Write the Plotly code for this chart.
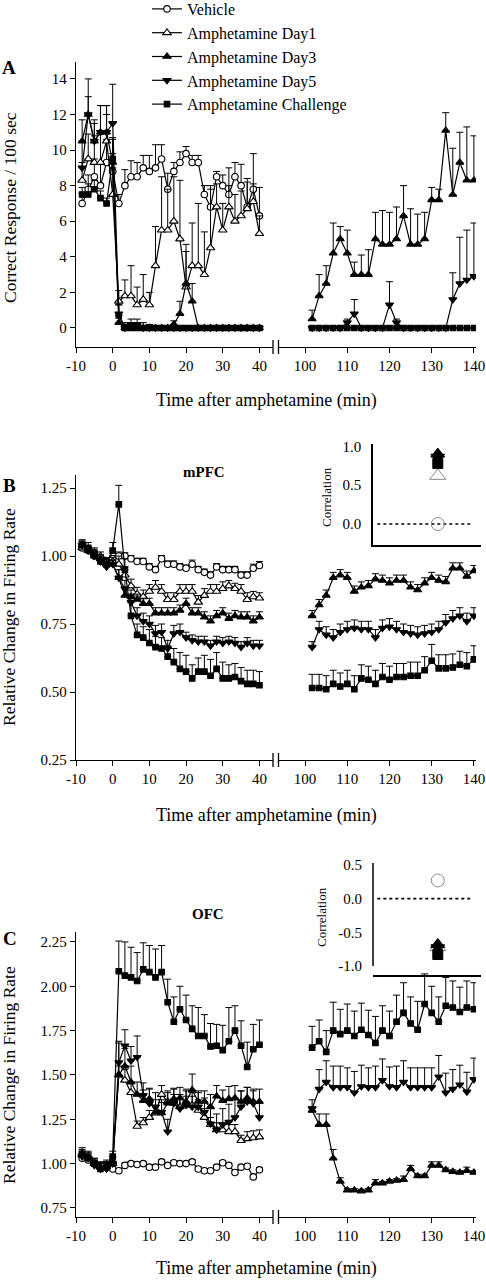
import plotly.graph_objects as go

W, H = 486, 1280
FONT = "Liberation Serif"

# ---------------- data ----------------
T_LEFT = [-8.33, -6.67, -5.0, -3.33, -1.67, 0.0, 1.67, 3.33, 5.0, 6.67, 8.33, 10.0, 11.67, 13.33, 15.0,
          16.67, 18.33, 20.0, 21.67, 23.33, 25.0, 26.67, 28.33, 30.0, 31.67, 33.33, 35.0, 36.67, 38.33, 40.0]
T_RIGHT = [101.67, 103.33, 105.0, 106.67, 108.33, 110.0, 111.67, 113.33, 115.0, 116.67, 118.33, 120.0,
           121.67, 123.33, 125.0, 126.67, 128.33, 130.0, 131.67, 133.33, 135.0, 136.67, 138.33, 140.0]

SERIES = ["Vehicle", "Amphetamine Day1", "Amphetamine Day3", "Amphetamine Day5", "Amphetamine Challenge"]

X_TICKS_LEFT = [-10, 0, 10, 20, 30, 40]
X_TICKS_RIGHT = [100, 110, 120, 130, 140]
A_YTICKS = [0, 2, 4, 6, 8, 10, 12, 14]
B_YTICKS = [0.25, 0.50, 0.75, 1.00, 1.25]
C_YTICKS = [0.75, 1.00, 1.25, 1.50, 1.75, 2.00, 2.25]

# Panel A (correct responses / 100 s)
A_VEH = [7.0, 7.8, 8.5, 8.0, 9.3, 8.8, 7.0, 8.0, 8.5, 8.5, 9.0, 8.8, 9.0, 9.5, 7.8, 8.8, 9.3, 9.8, 9.3, 9.3,
         7.5, 6.8, 8.5, 8.0, 7.5, 8.5, 8.0, 6.8, 7.8, 6.3]
A_VEH_ERR = [0.6, 0.8, 1.0, 1.3, 1.3, 1.0, 0.5, 0.9, 0.9, 0.8, 0.7, 0.9, 1.3, 0.8, 0.9, 0.5, 0.6, 0.4, 0.4, 0.4,
             0.5, 1.2, 0.3, 0.6, 1.5, 0.8, 1.2, 1.6, 2.0, 1.6]
A_D1 = [8.3, 9.5, 9.3, 9.3, 10.5, 7.5, 1.5, 1.8, 1.8, 1.3, 1.6, 1.3, 3.5, 5.5, 5.5, 6.0, 5.0, 2.3, 3.5, 3.5,
        3.0, 4.5, 6.8, 5.5, 6.8, 6.0, 6.3, 6.7, 7.1, 5.3]
A_D1_ERR = [1.0, 1.4, 1.5, 1.6, 1.5, 1.5, 0.6, 0.9, 1.7, 1.0, 1.4, 0.7, 2.2, 3.0, 2.3, 2.5, 3.3, 2.4, 2.4, 3.5,
            2.4, 3.3, 1.3, 1.5, 1.2, 1.5, 1.4, 1.5, 1.0, 1.0]
A_D3 = [10.5, 12.0, 10.5, 11.0, 11.0, 9.3, 0.3, 0, 0, 0, 0, 0, 0, 0, 0, 0.2, 0.8, 2.5, 1.5, 0,
        0, 0, 0, 0, 0, 0, 0, 0, 0, 0]
A_D3_ERR = [1.2, 2.0, 1.2, 1.5, 1.5, 1.3, 0.4, 0.2, 0.2, 0.2, 0.3, 0.2, 0, 0, 0, 0.2, 0.7, 1.8, 1.0, 0,
            0, 0, 0, 0, 0, 0, 0, 0, 0, 0]
A_D5 = [9.0, 12.0, 10.5, 11.0, 11.0, 11.5, 0.8, 0, 0.2, 0.2, 0, 0, 0, 0, 0, 0, 0, 0, 0, 0,
        0, 0, 0, 0, 0, 0, 0, 0, 0, 0]
A_D5_ERR = [1.5, 1.0, 1.0, 1.5, 1.5, 2.2, 0.5, 0.3, 0.3, 0.3, 0, 0, 0, 0, 0, 0, 0, 0, 0, 0,
            0, 0, 0, 0, 0, 0, 0, 0, 0, 0]
A_CH = [7.5, 7.5, 7.8, 7.3, 7.0, 9.5, 0.7, 0, 0, 0, 0, 0, 0, 0, 0, 0, 0, 0, 0, 0,
        0, 0, 0, 0, 0, 0, 0, 0, 0, 0]
A_CH_ERR = [0.4, 0.6, 0.5, 0.4, 0.3, 1.2, 0.6, 0, 0, 0, 0, 0, 0, 0, 0, 0, 0, 0, 0, 0,
            0, 0, 0, 0, 0, 0, 0, 0, 0, 0]

AR_D3 = [0.5, 1.8, 2.5, 4.2, 5.0, 4.2, 3.0, 3.0, 3.0, 5.0, 4.7, 4.7, 5.0, 6.3, 4.7, 4.7, 5.0, 7.2, 7.2, 11.1,
         7.5, 9.3, 8.3, 8.3]
AR_D3_ERR = [0.5, 1.2, 1.0, 1.7, 0.7, 1.3, 0.7, 1.1, 1.4, 1.5, 1.9, 1.8, 1.8, 1.7, 2.0, 1.7, 1.5, 0.7, 0.6, 1.0,
             2.6, 1.7, 3.0, 2.5]
AR_D5 = [0, 0, 0, 0, 0, 0.3, 0.8, 0, 0, 0, 0, 1.3, 0.3, 0, 0, 0, 0, 0, 0, 0, 1.6, 2.5, 2.7, 2.9]
AR_D5_ERR = [0, 0, 0, 0, 0, 0.2, 0.8, 0, 0, 0, 0, 1.3, 0.2, 0, 0, 0, 0, 0, 0, 0, 1.5, 2.6, 2.8, 3.0]
AR_CH = [0, 0, 0, 0, 0, 0, 0, 0, 0, 0, 0, 0, 0, 0, 0, 0, 0, 0, 0, 0, 0, 0, 0, 0]
AR_CH_ERR = [0, 0, 0, 0, 0, 0, 0, 0, 0, 0, 0, 0, 0, 0, 0, 0, 0, 0, 0, 0, 0, 0, 0, 0]

# Panel B (mPFC relative firing rate)
B_VEH = [1.03, 1.02, 1.00, 0.99, 0.98, 0.99, 1.00, 1.00, 0.99, 0.98, 0.98, 0.96, 0.95, 0.99, 0.97, 0.97, 0.96,
         0.955, 0.97, 0.95, 0.94, 0.93, 0.96, 0.95, 0.95, 0.95, 0.93, 0.93, 0.955, 0.965]
B_VEH_ERR = [0.012, 0.012, 0.012, 0.012, 0.012, 0.012, 0.015, 0.012, 0.012, 0.012, 0.012, 0.012, 0.012, 0.012,
             0.012, 0.012, 0.012, 0.012, 0.015, 0.012, 0.012, 0.012, 0.012, 0.012, 0.012, 0.012, 0.012, 0.012,
             0.015, 0.015]
B_D1 = [1.03, 1.02, 1.01, 1.00, 0.98, 0.98, 0.97, 0.93, 0.89, 0.86, 0.85, 0.87, 0.885, 0.87, 0.84, 0.84, 0.87,
        0.87, 0.87, 0.83, 0.855, 0.87, 0.87, 0.88, 0.89, 0.88, 0.87, 0.84, 0.85, 0.845]
B_D1_ERR = [0.015, 0.015, 0.015, 0.015, 0.015, 0.015, 0.03, 0.03, 0.025, 0.025, 0.025, 0.025, 0.025, 0.025,
            0.025, 0.025, 0.025, 0.025, 0.025, 0.025, 0.025, 0.025, 0.025, 0.025, 0.02, 0.02, 0.025, 0.025,
            0.02, 0.02]
B_D3 = [1.04, 1.02, 1.00, 0.99, 0.97, 0.97, 0.92, 0.855, 0.85, 0.84, 0.825, 0.825, 0.79, 0.79, 0.79, 0.79, 0.80,
        0.825, 0.79, 0.79, 0.775, 0.76, 0.78, 0.79, 0.77, 0.78, 0.775, 0.775, 0.76, 0.775]
B_D3_ERR = [0.015, 0.015, 0.015, 0.015, 0.015, 0.015, 0.03, 0.03, 0.025, 0.02, 0.02, 0.02, 0.02, 0.02, 0.02,
            0.02, 0.02, 0.02, 0.02, 0.02, 0.02, 0.02, 0.02, 0.02, 0.02, 0.02, 0.02, 0.02, 0.02, 0.02]
B_D5 = [1.04, 1.02, 1.00, 0.98, 0.96, 0.97, 0.92, 0.88, 0.83, 0.78, 0.76, 0.75, 0.715, 0.72, 0.66, 0.715, 0.72,
        0.70, 0.69, 0.685, 0.685, 0.67, 0.685, 0.68, 0.685, 0.68, 0.665, 0.68, 0.67, 0.67]
B_D5_ERR = [0.015, 0.015, 0.015, 0.015, 0.015, 0.015, 0.03, 0.03, 0.03, 0.03, 0.03, 0.03, 0.03, 0.03, 0.03, 0.03,
            0.03, 0.02, 0.02, 0.02, 0.02, 0.02, 0.02, 0.02, 0.02, 0.02, 0.02, 0.02, 0.02, 0.02]
B_CH = [1.04, 1.03, 1.01, 0.98, 0.97, 1.02, 1.19, 0.95, 0.78, 0.71, 0.70, 0.68, 0.665, 0.66, 0.63, 0.61, 0.585,
        0.575, 0.55, 0.575, 0.575, 0.56, 0.585, 0.55, 0.55, 0.555, 0.54, 0.53, 0.53, 0.525]
B_CH_ERR = [0.02, 0.02, 0.02, 0.02, 0.02, 0.03, 0.07, 0.04, 0.05, 0.04, 0.04, 0.05, 0.04, 0.04, 0.04, 0.05, 0.06,
            0.06, 0.05, 0.05, 0.06, 0.06, 0.06, 0.06, 0.05, 0.05, 0.05, 0.05, 0.05, 0.05]

BR_D3 = [0.78, 0.82, 0.855, 0.92, 0.93, 0.92, 0.87, 0.885, 0.89, 0.915, 0.91, 0.90, 0.91, 0.91, 0.885, 0.875,
         0.90, 0.92, 0.91, 0.905, 0.955, 0.955, 0.925, 0.945]
BR_D3_ERR = [0.02, 0.02, 0.02, 0.02, 0.02, 0.02, 0.02, 0.02, 0.02, 0.02, 0.02, 0.02, 0.02, 0.02, 0.02, 0.02,
             0.02, 0.02, 0.02, 0.02, 0.02, 0.02, 0.02, 0.02]
BR_D5 = [0.665, 0.73, 0.71, 0.70, 0.72, 0.73, 0.735, 0.73, 0.73, 0.70, 0.735, 0.74, 0.73, 0.72, 0.715, 0.71,
         0.715, 0.72, 0.73, 0.755, 0.77, 0.78, 0.76, 0.78]
BR_D5_ERR = [0.02, 0.03, 0.03, 0.03, 0.03, 0.03, 0.03, 0.03, 0.03, 0.03, 0.03, 0.03, 0.03, 0.03, 0.03, 0.03,
             0.03, 0.03, 0.03, 0.03, 0.03, 0.03, 0.03, 0.03]
BR_CH = [0.515, 0.515, 0.51, 0.53, 0.52, 0.53, 0.51, 0.55, 0.545, 0.53, 0.555, 0.545, 0.555, 0.555, 0.56, 0.56,
         0.58, 0.615, 0.587, 0.587, 0.59, 0.60, 0.595, 0.62]
BR_CH_ERR = [0.05, 0.05, 0.05, 0.05, 0.05, 0.05, 0.05, 0.05, 0.05, 0.05, 0.05, 0.05, 0.05, 0.05, 0.05, 0.05,
             0.05, 0.06, 0.05, 0.05, 0.05, 0.05, 0.05, 0.05]

# Panel C (OFC relative firing rate)
C_VEH = [1.03, 1.02, 1.00, 0.99, 0.98, 0.97, 0.96, 0.99, 1.00, 0.995, 1.00, 0.98, 0.98, 1.01, 0.99, 1.005,
         1.00, 1.00, 1.01, 0.97, 0.96, 0.96, 0.98, 1.005, 0.99, 0.95, 0.98, 0.985, 0.925, 0.965]
C_VEH_ERR = [0.012, 0.012, 0.012, 0.012, 0.012, 0.012, 0.012, 0.012, 0.012, 0.012, 0.012, 0.012, 0.012, 0.012,
             0.012, 0.012, 0.012, 0.012, 0.012, 0.012, 0.012, 0.012, 0.012, 0.012, 0.012, 0.012, 0.012, 0.012,
             0.012, 0.012]
C_D1 = [1.05, 1.03, 1.00, 0.98, 0.99, 1.00, 1.50, 1.47, 1.40, 1.21, 1.23, 1.26, 1.285, 1.39, 1.35, 1.34, 1.32,
        1.33, 1.33, 1.30, 1.26, 1.22, 1.19, 1.19, 1.18, 1.18, 1.13, 1.14, 1.145, 1.15]
C_D1_ERR = [0.02, 0.02, 0.02, 0.02, 0.02, 0.02, 0.05, 0.06, 0.05, 0.03, 0.03, 0.04, 0.04, 0.05, 0.06, 0.05,
            0.05, 0.05, 0.05, 0.06, 0.05, 0.04, 0.04, 0.04, 0.04, 0.04, 0.03, 0.04, 0.04, 0.04]
C_D3 = [1.06, 1.04, 1.00, 0.98, 0.98, 1.01, 1.50, 1.55, 1.46, 1.39, 1.355, 1.365, 1.29, 1.285, 1.34, 1.365,
        1.37, 1.35, 1.415, 1.35, 1.35, 1.32, 1.38, 1.355, 1.365, 1.37, 1.35, 1.37, 1.35, 1.35]
C_D3_ERR = [0.03, 0.03, 0.03, 0.03, 0.03, 0.03, 0.18, 0.10, 0.09, 0.07, 0.06, 0.06, 0.07, 0.06, 0.06, 0.06,
            0.06, 0.07, 0.09, 0.06, 0.06, 0.07, 0.06, 0.06, 0.07, 0.07, 0.06, 0.06, 0.06, 0.07]
C_D5 = [1.04, 1.03, 0.99, 0.97, 0.97, 1.00, 1.57, 1.665, 1.58, 1.60, 1.385, 1.34, 1.32, 1.29, 1.18, 1.34, 1.31,
        1.33, 1.32, 1.32, 1.29, 1.225, 1.19, 1.22, 1.235, 1.26, 1.32, 1.35, 1.34, 1.26]
C_D5_ERR = [0.03, 0.03, 0.03, 0.03, 0.03, 0.03, 0.12, 0.09, 0.08, 0.12, 0.07, 0.08, 0.08, 0.07, 0.07, 0.08,
            0.08, 0.08, 0.08, 0.08, 0.08, 0.09, 0.09, 0.09, 0.10, 0.10, 0.09, 0.08, 0.08, 0.08]
C_CH = [1.05, 1.03, 1.00, 0.97, 0.99, 1.04, 2.085, 2.06, 2.05, 2.03, 2.095, 2.08, 2.05, 2.08, 1.91, 1.80, 1.87,
        1.81, 1.76, 1.72, 1.72, 1.66, 1.665, 1.64, 1.69, 1.75, 1.665, 1.545, 1.645, 1.67]
C_CH_ERR = [0.03, 0.03, 0.03, 0.03, 0.03, 0.03, 0.17, 0.19, 0.17, 0.16, 0.15, 0.15, 0.16, 0.15, 0.13, 0.14,
            0.13, 0.14, 0.13, 0.16, 0.12, 0.13, 0.12, 0.14, 0.19, 0.14, 0.14, 0.14, 0.14, 0.14]

CR_CH = [1.654, 1.69, 1.63, 1.75, 1.73, 1.75, 1.72, 1.755, 1.725, 1.68, 1.75, 1.72, 1.80, 1.85, 1.79, 1.755,
         1.90, 1.85, 1.80, 1.89, 1.88, 1.855, 1.88, 1.87]
CR_CH_ERR = [0.12, 0.12, 0.12, 0.16, 0.14, 0.15, 0.14, 0.15, 0.14, 0.15, 0.14, 0.14, 0.15, 0.17, 0.15, 0.16,
             0.17, 0.15, 0.14, 0.16, 0.15, 0.14, 0.15, 0.15]
CR_D5 = [1.31, 1.42, 1.46, 1.43, 1.43, 1.43, 1.40, 1.435, 1.43, 1.43, 1.47, 1.435, 1.43, 1.46, 1.43, 1.43,
         1.43, 1.43, 1.49, 1.40, 1.42, 1.445, 1.405, 1.475]
CR_D5_ERR = [0.05, 0.11, 0.12, 0.12, 0.12, 0.11, 0.12, 0.12, 0.11, 0.12, 0.12, 0.11, 0.12, 0.12, 0.11, 0.11,
             0.11, 0.11, 0.12, 0.11, 0.11, 0.11, 0.11, 0.12]
CR_D3 = [1.30, 1.22, 1.22, 1.03, 0.90, 0.85, 0.85, 0.845, 0.85, 0.89, 0.89, 0.90, 0.905, 0.91, 0.97, 0.93,
         0.93, 0.99, 0.99, 0.965, 0.955, 0.95, 0.96, 0.95]
CR_D3_ERR = [0.02, 0.06, 0.06, 0.05, 0.02, 0.01, 0.01, 0.01, 0.01, 0.02, 0.01, 0.01, 0.01, 0.02, 0.02, 0.01,
             0.01, 0.02, 0.02, 0.01, 0.01, 0.01, 0.02, 0.01]

# Insets: correlation per group
CORR_B = [0.0, 0.62, 0.90, 0.86, 0.78]
CORR_C = [0.27, -0.72, -0.68, -0.73, -0.83]
INSET_B_TICKS = [0.0, 0.5, 1.0]
INSET_C_TICKS = [-1.0, -0.5, 0.0, 0.5]

# ---------------- styles ----------------
STYLE = {
    "Vehicle": dict(symbol="circle", size=6.5, fill="white"),
    "Amphetamine Day1": dict(symbol="triangle-up", size=7.5, fill="white"),
    "Amphetamine Day3": dict(symbol="triangle-up", size=7, fill="black"),
    "Amphetamine Day5": dict(symbol="triangle-down", size=7, fill="black"),
    "Amphetamine Challenge": dict(symbol="square", size=5.5, fill="black"),
}


def xd(p0, p1):
    return [p0 / W, p1 / W]


def yd(top, bottom):
    return [1 - bottom / H, 1 - top / H]


fig = go.Figure()


def add(name, x, y, err, xa, ya, showlegend=False):
    st = STYLE[name]
    fig.add_trace(go.Scatter(
        x=x, y=y, mode="lines+markers", name=name, legendgroup=name, showlegend=showlegend,
        xaxis=xa, yaxis=ya,
        line=dict(color="black", width=1.2),
        marker=dict(symbol=st["symbol"], size=st["size"], color=st["fill"],
                    line=dict(color="black", width=1.1)),
        error_y=dict(type="data", symmetric=False, array=err, arrayminus=[0] * len(err),
                     color="black", thickness=1, width=3.5),
        hoverinfo="skip",
    ))


# Panel A
add("Vehicle", T_LEFT, A_VEH, A_VEH_ERR, "x", "y", True)
add("Amphetamine Day1", T_LEFT, A_D1, A_D1_ERR, "x", "y", True)
add("Amphetamine Day3", T_LEFT, A_D3, A_D3_ERR, "x", "y", True)
add("Amphetamine Day5", T_LEFT, A_D5, A_D5_ERR, "x", "y", True)
add("Amphetamine Challenge", T_LEFT, A_CH, A_CH_ERR, "x", "y", True)
add("Amphetamine Challenge", T_RIGHT, AR_CH, AR_CH_ERR, "x2", "y2")
add("Amphetamine Day5", T_RIGHT, AR_D5, AR_D5_ERR, "x2", "y2")
add("Amphetamine Day3", T_RIGHT, AR_D3, AR_D3_ERR, "x2", "y2")

# Panel B
add("Vehicle", T_LEFT, B_VEH, B_VEH_ERR, "x3", "y3")
add("Amphetamine Day1", T_LEFT, B_D1, B_D1_ERR, "x3", "y3")
add("Amphetamine Day3", T_LEFT, B_D3, B_D3_ERR, "x3", "y3")
add("Amphetamine Day5", T_LEFT, B_D5, B_D5_ERR, "x3", "y3")
add("Amphetamine Challenge", T_LEFT, B_CH, B_CH_ERR, "x3", "y3")
add("Amphetamine Day3", T_RIGHT, BR_D3, BR_D3_ERR, "x4", "y4")
add("Amphetamine Day5", T_RIGHT, BR_D5, BR_D5_ERR, "x4", "y4")
add("Amphetamine Challenge", T_RIGHT, BR_CH, BR_CH_ERR, "x4", "y4")

# Panel C
add("Vehicle", T_LEFT, C_VEH, C_VEH_ERR, "x5", "y5")
add("Amphetamine Day1", T_LEFT, C_D1, C_D1_ERR, "x5", "y5")
add("Amphetamine Day3", T_LEFT, C_D3, C_D3_ERR, "x5", "y5")
add("Amphetamine Day5", T_LEFT, C_D5, C_D5_ERR, "x5", "y5")
add("Amphetamine Challenge", T_LEFT, C_CH, C_CH_ERR, "x5", "y5")
add("Amphetamine Challenge", T_RIGHT, CR_CH, CR_CH_ERR, "x6", "y6")
add("Amphetamine Day5", T_RIGHT, CR_D5, CR_D5_ERR, "x6", "y6")
add("Amphetamine Day3", T_RIGHT, CR_D3, CR_D3_ERR, "x6", "y6")

# Insets
INSET_STYLE = [
    dict(symbol="circle-open", size=13, color="#8a8a8a", line=dict(color="#8a8a8a", width=1)),
    dict(symbol="triangle-up-open", size=14, color="#8a8a8a", line=dict(color="#8a8a8a", width=1)),
    dict(symbol="triangle-up", size=12, color="black", line=dict(color="black", width=1)),
    dict(symbol="triangle-down", size=12, color="black", line=dict(color="black", width=1)),
    dict(symbol="square", size=10, color="black", line=dict(color="black", width=1)),
]
for i, name in enumerate(SERIES):
    for vals, xa, ya in ((CORR_B, "x7", "y7"), (CORR_C, "x8", "y8")):
        fig.add_trace(go.Scatter(x=[0.6], y=[vals[i]], mode="markers", name=name, showlegend=False,
                                 xaxis=xa, yaxis=ya, marker=INSET_STYLE[i], hoverinfo="skip"))

tickfont = dict(family=FONT, size=15, color="black")
base = dict(showline=True, linecolor="black", linewidth=1.3, ticks="outside", ticklen=5,
            tickwidth=1.3, tickcolor="black", showgrid=False, zeroline=False, tickfont=tickfont,
            fixedrange=True)

LEFT_DOM = xd(76, 273)
RIGHT_DOM = xd(278.5, 476)
LEFT_RANGE = [-10, 43.7]
RIGHT_RANGE = [93.7, 140.5]

panels = [
    ("xaxis", "yaxis", "xaxis2", "yaxis2", "y", "y2", "x", "x2", 62, 347, [-1.07, 14.95], A_YTICKS, "{:d}"),
    ("xaxis3", "yaxis3", "xaxis4", "yaxis4", "y3", "y4", "x3", "x4", 475, 760, [0.25, 1.298], B_YTICKS, "{:.2f}"),
    ("xaxis5", "yaxis5", "xaxis6", "yaxis6", "y5", "y6", "x5", "x6", 932, 1217, [0.699, 2.306], C_YTICKS, "{:.2f}"),
]
layout = {}
shapes = []
for (xl, yl, xr, yr, yla, yra, xla, xra, top, bottom, yrange, yticks, fmt) in panels:
    layout[xl] = dict(base, domain=LEFT_DOM, range=LEFT_RANGE, anchor=yla, tickvals=X_TICKS_LEFT,
                      ticktext=[str(v) for v in X_TICKS_LEFT])
    layout[xr] = dict(base, domain=RIGHT_DOM, range=RIGHT_RANGE, anchor=yra, tickvals=X_TICKS_RIGHT,
                      ticktext=[str(v) for v in X_TICKS_RIGHT], ticklabeloverflow="allow")
    layout[yl] = dict(base, domain=yd(top, bottom), range=yrange, anchor=xla, tickvals=yticks,
                      ticktext=[fmt.format(v) for v in yticks])
    layout[yr] = dict(domain=yd(top, bottom), range=yrange, anchor=xra, visible=False, fixedrange=True)
    for bx in (273, 278.5):
        shapes.append(dict(type="line", xref="paper", yref="paper", x0=bx / W, x1=bx / W,
                           y0=1 - (bottom + 7) / H, y1=1 - (bottom - 7) / H,
                           line=dict(color="black", width=1.3)))

inset_axis = dict(showline=True, linecolor="black", linewidth=1.5, showgrid=False, zeroline=False,
                  fixedrange=True)
layout["xaxis7"] = dict(inset_axis, domain=xd(373, 481), range=[0, 1], anchor="y7", showticklabels=False,
                        ticks="")
layout["yaxis7"] = dict(inset_axis, domain=yd(444, 545), range=[-0.27, 1.03], anchor="x7",
                        tickvals=INSET_B_TICKS, ticktext=["{:.1f}".format(v) for v in INSET_B_TICKS],
                        ticks="outside", ticklen=7, tickcolor="rgba(0,0,0,0)", tickfont=tickfont)
layout["xaxis8"] = dict(inset_axis, domain=xd(373, 481), range=[0, 1], anchor="y8", showticklabels=False,
                        ticks="")
layout["yaxis8"] = dict(inset_axis, domain=yd(860, 975), range=[-1.134, 0.574], anchor="x8",
                        showline=False,
                        tickvals=INSET_C_TICKS, ticktext=["{:.1f}".format(v) for v in INSET_C_TICKS],
                        ticks="outside", ticklen=7, tickcolor="rgba(0,0,0,0)", tickfont=tickfont)
shapes.append(dict(type="line", xref="x8 domain", yref="y8", x0=0, x1=0, y0=-1.0, y1=0.53,
                   line=dict(color="black", width=1.5)))
for xa, ya in (("x7", "y7"), ("x8", "y8")):
    shapes.append(dict(type="line", xref=xa, yref=ya, x0=0.04, x1=0.9, y0=0, y1=0,
                       line=dict(color="black", width=1.6, dash="dot"), layer="below"))

ann_font = dict(family=FONT, color="black")


def ann(text, px, py, size, bold=False, angle=0):
    return dict(text=("<b>%s</b>" % text) if bold else text, x=px / W, y=1 - py / H, xref="paper",
                yref="paper", showarrow=False, xanchor="center", yanchor="middle", textangle=angle,
                font=dict(ann_font, size=size))


annotations = [
    ann("A", 9, 67, 19, bold=True),
    ann("B", 9, 485, 19, bold=True),
    ann("C", 10, 938, 19, bold=True),
    ann("mPFC", 204, 472, 15, bold=True),
    ann("OFC", 208, 914, 15, bold=True),
    ann("Correct Response / 100 sec", 10, 208, 17.5, angle=-90),
    ann("Relative Change in Firing Rate", 9, 617, 17.5, angle=-90),
    ann("Relative Change in Firing Rate", 9, 1075, 17.5, angle=-90),
    ann("Time after amphetamine (min)", 266, 400, 18),
    ann("Time after amphetamine (min)", 266, 815, 18),
    ann("Time after amphetamine (min)", 266, 1268, 18),
    ann("Correlation", 326, 497, 13, angle=-90),
    ann("Correlation", 321, 917, 13, angle=-90),
]

fig.update_layout(
    width=W, height=H, margin=dict(l=0, r=0, t=0, b=0, autoexpand=False),
    paper_bgcolor="white", plot_bgcolor="rgba(0,0,0,0)",
    font=dict(family=FONT, color="black", size=15),
    showlegend=True,
    legend=dict(x=147 / W, y=1 + 8 / H, xanchor="left", yanchor="top", bgcolor="rgba(0,0,0,0)",
                font=dict(family=FONT, size=16, color="black"), tracegroupgap=0,
                traceorder="grouped", itemclick=False, itemdoubleclick=False),
    shapes=shapes, annotations=annotations,
    **layout,
)

fig.write_html("out.html", config={"displayModeBar": False},
               post_script="document.body.style.margin='0px';document.body.style.padding='0px';"
                           "document.body.style.overflow='hidden';")
